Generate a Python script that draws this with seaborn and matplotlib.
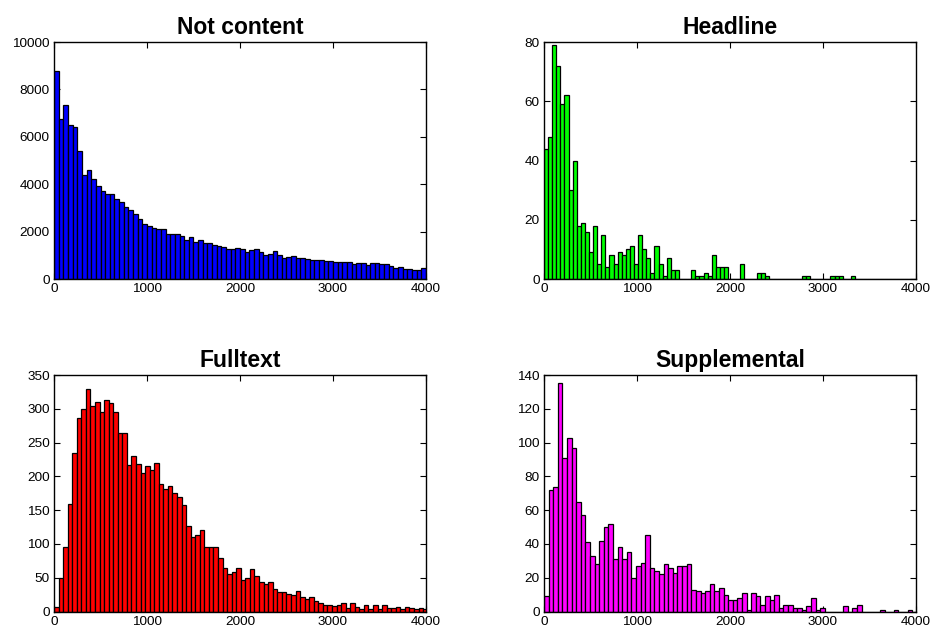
import numpy as np
import pandas as pd
import matplotlib
matplotlib.use("Agg")
import matplotlib.pyplot as plt
import seaborn as sns

# Histogram counts per bin (bins start at 0)
not_content_counts = [
    8785, 6737, 7330, 6483, 6398, 5410, 4407, 4605, 4209, 3941,
    3715, 3602, 3602, 3376, 3263, 3037, 2924, 2754, 2542, 2331,
    2246, 2147, 2119, 2090, 1907, 1907, 1907, 1822, 1667, 1780,
    1582, 1653, 1511, 1540, 1441, 1398, 1356, 1286, 1286, 1314,
    1258, 1159, 1215, 1258, 1159, 1032, 1046, 1173, 1032, 904,
    918, 989, 890, 904, 834, 820, 820, 791, 770, 740,
    721, 735, 707, 735, 650, 664, 664, 594, 692, 692,
    636, 650, 565, 480, 523, 438, 410, 382, 367, 480,
]
not_content_width = 50

headline_counts = [
    44, 48, 79, 72, 59, 62, 30, 40, 18, 19,
    16, 9, 18, 5, 15, 4, 8, 5, 9, 8,
    10, 11, 5, 15, 10, 7, 2, 11, 5, 1,
    7, 3, 3, 0, 0, 0, 3, 1, 1, 2,
    1, 8, 4, 4, 4, 0, 0, 0, 5, 0,
    0, 0, 2, 2, 1, 0, 0, 0, 0, 0,
    0, 0, 0, 1, 1, 0, 0, 0, 0, 0,
    1, 1, 1, 0, 0, 1, 0, 0, 0, 0,
    0, 0, 0, 0, 0, 0, 0, 0, 0, 0, 0,
]
headline_width = 44

fulltext_counts = [
    7, 49, 95, 159, 235, 286, 299, 330, 304, 310,
    296, 313, 308, 295, 264, 264, 217, 230, 218, 205,
    216, 210, 220, 188, 181, 186, 176, 169, 157, 127,
    110, 113, 120, 96, 96, 96, 79, 65, 55, 58,
    64, 47, 49, 63, 53, 44, 41, 44, 33, 29,
    29, 26, 25, 31, 22, 19, 22, 16, 13, 9,
    9, 8, 10, 12, 5, 12, 7, 4, 9, 4,
    9, 4, 9, 5, 5, 6, 4, 6, 5, 4,
    5, 3,
]
fulltext_width = 49

supplemental_counts = [
    9, 72, 74, 135, 91, 103, 97, 65, 57, 41,
    33, 28, 42, 50, 52, 31, 38, 31, 35, 20,
    27, 29, 45, 26, 24, 22, 28, 26, 23, 27,
    27, 28, 13, 12, 11, 12, 16, 12, 14, 10,
    7, 7, 8, 11, 1, 11, 9, 4, 9, 7,
    10, 2, 4, 4, 2, 2, 1, 3, 8, 1,
    2, 0, 0, 0, 0, 3, 0, 2, 4, 0,
    0, 0, 0, 1, 0, 0, 1, 0, 0, 1,
    0,
]
supplemental_width = 49.5

titles = ["Not content", "Headline", "Fulltext", "Supplemental"]
colors = ["#0000ff", "#00ff00", "#ff0000", "#ff00ff"]
y_ticks = [
    [0, 2000, 4000, 6000, 8000, 10000],
    [0, 20, 40, 60, 80],
    [0, 50, 100, 150, 200, 250, 300, 350],
    [0, 20, 40, 60, 80, 100, 120, 140],
]
x_ticks = [0, 1000, 2000, 3000, 4000]

panels = [
    (not_content_counts, not_content_width),
    (headline_counts, headline_width),
    (fulltext_counts, fulltext_width),
    (supplemental_counts, supplemental_width),
]

sns.set_theme(style="white")
plt.rcParams["font.family"] = ["Liberation Sans", "DejaVu Sans"]
plt.rcParams["text.color"] = "black"

fig = plt.figure(figsize=(9.36, 6.35), dpi=100)
boxes = [
    [0.0577, 0.5606, 0.3974, 0.3732],
    [0.5812, 0.5606, 0.3974, 0.3732],
    [0.0577, 0.0370, 0.3974, 0.3724],
    [0.5812, 0.0370, 0.3974, 0.3724],
]

for (counts, width), title, color, yt, box in zip(panels, titles, colors, y_ticks, boxes):
    ax = fig.add_axes(box)
    edges = [i * width for i in range(len(counts) + 1)]
    df = pd.DataFrame({
        "center": [(a + b) / 2 for a, b in zip(edges[:-1], edges[1:])],
        "count": np.asarray(counts, dtype=float),
    })
    sns.histplot(
        data=df, x="center", weights="count", bins=edges, ax=ax,
        color=color, alpha=1.0, edgecolor="black", linewidth=0.9,
    )
    ax.set_xlim(0, 4000)
    ax.set_ylim(yt[0], yt[-1])
    ax.set_xticks(x_ticks)
    ax.set_yticks(yt)
    ax.set_xlabel("")
    ax.set_ylabel("")
    ax.set_title(title, fontsize=16.5, fontweight="bold", pad=6, color="black")
    ax.tick_params(direction="in", length=4, width=0.8, labelsize=9.7,
                   top=True, right=True, bottom=True, left=True,
                   colors="black", pad=3)
    for side in ax.spines.values():
        side.set_visible(True)
        side.set_color("black")
        side.set_linewidth(1.0)

fig.savefig("out.png", dpi=100)
